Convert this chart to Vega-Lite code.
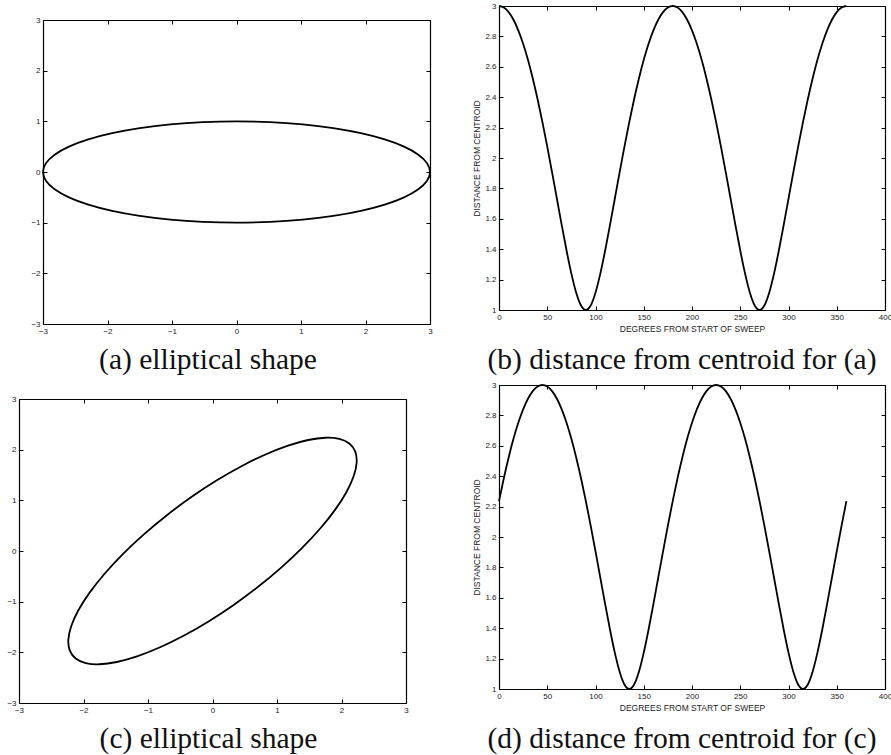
{
  "$schema": "https://vega.github.io/schema/vega-lite/v6.json",
  "padding": 0,
  "background": "white",
  "config": {
    "view": {"stroke": null},
    "axis": {"grid": false, "domainColor": "#000", "domainWidth": 1.2, "tickColor": "#000", "tickWidth": 1, "tickSize": -4, "labelPadding": 7, "labelFont": "Liberation Sans", "labelFontSize": 8, "labelColor": "#222", "titleFont": "Liberation Sans", "titleFontSize": 8.5, "titleFontWeight": "normal", "titleColor": "#222", "titlePadding": 3, "labelFlush": false, "labelOverlap": false, "labelBound": false},
    "title": {"font": "Liberation Serif", "fontSize": 29.5, "fontWeight": "normal", "color": "#111", "orient": "bottom", "frame": "group", "anchor": "middle"},
    "line": {"color": "black", "strokeWidth": 1.8}
  },
  "datasets": {
    "ea": [
      {"i":0,"x":3,"y":0},{"i":1,"x":2.9544,"y":0.1736},{"i":2,"x":2.8191,"y":0.342},{"i":3,"x":2.5981,"y":0.5},{"i":4,"x":2.2981,"y":0.6428},{"i":5,"x":1.9284,"y":0.766},{"i":6,"x":1.5,"y":0.866},{"i":7,"x":1.0261,"y":0.9397},{"i":8,"x":0.5209,"y":0.9848},{"i":9,"x":0,"y":1},{"i":10,"x":-0.5209,"y":0.9848},{"i":11,"x":-1.0261,"y":0.9397},{"i":12,"x":-1.5,"y":0.866},{"i":13,"x":-1.9284,"y":0.766},{"i":14,"x":-2.2981,"y":0.6428},{"i":15,"x":-2.5981,"y":0.5},{"i":16,"x":-2.8191,"y":0.342},{"i":17,"x":-2.9544,"y":0.1736},{"i":18,"x":-3,"y":0},{"i":19,"x":-2.9544,"y":-0.1736},{"i":20,"x":-2.8191,"y":-0.342},{"i":21,"x":-2.5981,"y":-0.5},{"i":22,"x":-2.2981,"y":-0.6428},{"i":23,"x":-1.9284,"y":-0.766},{"i":24,"x":-1.5,"y":-0.866},{"i":25,"x":-1.0261,"y":-0.9397},{"i":26,"x":-0.5209,"y":-0.9848},{"i":27,"x":0,"y":-1},{"i":28,"x":0.5209,"y":-0.9848},{"i":29,"x":1.0261,"y":-0.9397},{"i":30,"x":1.5,"y":-0.866},{"i":31,"x":1.9284,"y":-0.766},{"i":32,"x":2.2981,"y":-0.6428},{"i":33,"x":2.5981,"y":-0.5},{"i":34,"x":2.8191,"y":-0.342},{"i":35,"x":2.9544,"y":-0.1736}
    ],
    "ec": [
      {"i":0,"x":2.1213,"y":2.1213},{"i":1,"x":1.9663,"y":2.2119},{"i":2,"x":1.7516,"y":2.2352},{"i":3,"x":1.4836,"y":2.1907},{"i":4,"x":1.1705,"y":2.0796},{"i":5,"x":0.8219,"y":1.9052},{"i":6,"x":0.4483,"y":1.673},{"i":7,"x":0.0611,"y":1.39},{"i":8,"x":-0.328,"y":1.0647},{"i":9,"x":-0.7071,"y":0.7071},{"i":10,"x":-1.0647,"y":0.328},{"i":11,"x":-1.39,"y":-0.0611},{"i":12,"x":-1.673,"y":-0.4483},{"i":13,"x":-1.9052,"y":-0.8219},{"i":14,"x":-2.0796,"y":-1.1705},{"i":15,"x":-2.1907,"y":-1.4836},{"i":16,"x":-2.2352,"y":-1.7516},{"i":17,"x":-2.2119,"y":-1.9663},{"i":18,"x":-2.1213,"y":-2.1213},{"i":19,"x":-1.9663,"y":-2.2119},{"i":20,"x":-1.7516,"y":-2.2352},{"i":21,"x":-1.4836,"y":-2.1907},{"i":22,"x":-1.1705,"y":-2.0796},{"i":23,"x":-0.8219,"y":-1.9052},{"i":24,"x":-0.4483,"y":-1.673},{"i":25,"x":-0.0611,"y":-1.39},{"i":26,"x":0.328,"y":-1.0647},{"i":27,"x":0.7071,"y":-0.7071},{"i":28,"x":1.0647,"y":-0.328},{"i":29,"x":1.39,"y":0.0611},{"i":30,"x":1.673,"y":0.4483},{"i":31,"x":1.9052,"y":0.8219},{"i":32,"x":2.0796,"y":1.1705},{"i":33,"x":2.1907,"y":1.4836},{"i":34,"x":2.2352,"y":1.7516},{"i":35,"x":2.2119,"y":1.9663}
    ],
    "da": [
      {"deg":0,"r":3},{"deg":5,"r":2.9898},{"deg":10,"r":2.9595},{"deg":15,"r":2.9093},{"deg":20,"r":2.8398},{"deg":25,"r":2.7516},{"deg":30,"r":2.6458},{"deg":35,"r":2.5235},{"deg":40,"r":2.3864},{"deg":45,"r":2.2361},{"deg":50,"r":2.075},{"deg":55,"r":1.9058},{"deg":60,"r":1.7321},{"deg":65,"r":1.5585},{"deg":70,"r":1.3913},{"deg":75,"r":1.2393},{"deg":80,"r":1.1141},{"deg":85,"r":1.03},{"deg":90,"r":1},
      {"deg":95,"r":1.03},{"deg":100,"r":1.1141},{"deg":105,"r":1.2393},{"deg":110,"r":1.3913},{"deg":115,"r":1.5585},{"deg":120,"r":1.7321},{"deg":125,"r":1.9058},{"deg":130,"r":2.075},{"deg":135,"r":2.2361},{"deg":140,"r":2.3864},{"deg":145,"r":2.5235},{"deg":150,"r":2.6458},{"deg":155,"r":2.7516},{"deg":160,"r":2.8398},{"deg":165,"r":2.9093},{"deg":170,"r":2.9595},{"deg":175,"r":2.9898},{"deg":180,"r":3},
      {"deg":185,"r":2.9898},{"deg":190,"r":2.9595},{"deg":195,"r":2.9093},{"deg":200,"r":2.8398},{"deg":205,"r":2.7516},{"deg":210,"r":2.6458},{"deg":215,"r":2.5235},{"deg":220,"r":2.3864},{"deg":225,"r":2.2361},{"deg":230,"r":2.075},{"deg":235,"r":1.9058},{"deg":240,"r":1.7321},{"deg":245,"r":1.5585},{"deg":250,"r":1.3913},{"deg":255,"r":1.2393},{"deg":260,"r":1.1141},{"deg":265,"r":1.03},{"deg":270,"r":1},
      {"deg":275,"r":1.03},{"deg":280,"r":1.1141},{"deg":285,"r":1.2393},{"deg":290,"r":1.3913},{"deg":295,"r":1.5585},{"deg":300,"r":1.7321},{"deg":305,"r":1.9058},{"deg":310,"r":2.075},{"deg":315,"r":2.2361},{"deg":320,"r":2.3864},{"deg":325,"r":2.5235},{"deg":330,"r":2.6458},{"deg":335,"r":2.7516},{"deg":340,"r":2.8398},{"deg":345,"r":2.9093},{"deg":350,"r":2.9595},{"deg":355,"r":2.9898},{"deg":360,"r":3}
    ],
    "dc": [
      {"deg":0,"r":2.2361},{"deg":5,"r":2.3864},{"deg":10,"r":2.5235},{"deg":15,"r":2.6458},{"deg":20,"r":2.7516},{"deg":25,"r":2.8398},{"deg":30,"r":2.9093},{"deg":35,"r":2.9595},{"deg":40,"r":2.9898},{"deg":45,"r":3},
      {"deg":50,"r":2.9898},{"deg":55,"r":2.9595},{"deg":60,"r":2.9093},{"deg":65,"r":2.8398},{"deg":70,"r":2.7516},{"deg":75,"r":2.6458},{"deg":80,"r":2.5235},{"deg":85,"r":2.3864},{"deg":90,"r":2.2361},{"deg":95,"r":2.075},{"deg":100,"r":1.9058},{"deg":105,"r":1.7321},{"deg":110,"r":1.5585},{"deg":115,"r":1.3913},{"deg":120,"r":1.2393},{"deg":125,"r":1.1141},{"deg":130,"r":1.03},{"deg":135,"r":1},
      {"deg":140,"r":1.03},{"deg":145,"r":1.1141},{"deg":150,"r":1.2393},{"deg":155,"r":1.3913},{"deg":160,"r":1.5585},{"deg":165,"r":1.7321},{"deg":170,"r":1.9058},{"deg":175,"r":2.075},{"deg":180,"r":2.2361},{"deg":185,"r":2.3864},{"deg":190,"r":2.5235},{"deg":195,"r":2.6458},{"deg":200,"r":2.7516},{"deg":205,"r":2.8398},{"deg":210,"r":2.9093},{"deg":215,"r":2.9595},{"deg":220,"r":2.9898},{"deg":225,"r":3},
      {"deg":230,"r":2.9898},{"deg":235,"r":2.9595},{"deg":240,"r":2.9093},{"deg":245,"r":2.8398},{"deg":250,"r":2.7516},{"deg":255,"r":2.6458},{"deg":260,"r":2.5235},{"deg":265,"r":2.3864},{"deg":270,"r":2.2361},{"deg":275,"r":2.075},{"deg":280,"r":1.9058},{"deg":285,"r":1.7321},{"deg":290,"r":1.5585},{"deg":295,"r":1.3913},{"deg":300,"r":1.2393},{"deg":305,"r":1.1141},{"deg":310,"r":1.03},{"deg":315,"r":1},
      {"deg":320,"r":1.03},{"deg":325,"r":1.1141},{"deg":330,"r":1.2393},{"deg":335,"r":1.3913},{"deg":340,"r":1.5585},{"deg":345,"r":1.7321},{"deg":350,"r":1.9058},{"deg":355,"r":2.075},{"deg":360,"r":2.2361}
    ]
  },
  "spacing": 38,
  "hconcat": [
    {
      "spacing": 0,
      "vconcat": [
        {
          "width": 411, "height": 318,
          "title": {"text": "(a) elliptical shape", "dx": -16.5, "offset": 11},
          "layer": [
            {"data": {"name": "ea"}, "mark": {"type": "line", "interpolate": "cardinal-closed"},
             "encoding": {
               "x": {"field": "x", "type": "quantitative", "scale": {"domain": [-3, 3], "range": [24, 411], "nice": false, "zero": false}, "axis": {"title": null, "values": [-3,-2,-1,0,1,2,3]}},
               "y": {"field": "y", "type": "quantitative", "scale": {"domain": [-3, 3], "range": [318, 14], "nice": false, "zero": false}, "axis": {"title": null, "values": [-3,-2,-1,0,1,2,3], "offset": -24, "minExtent": 0}},
               "order": {"field": "i"}}},
            {"data": {"name": "ea"}, "mark": {"type": "line", "opacity": 0},
             "encoding": {
               "x": {"field": "x", "type": "quantitative", "axis": {"orient": "top", "title": null, "labels": false, "values": [-3,-2,-1,0,1,2,3], "offset": -14, "minExtent": 0}},
               "y": {"field": "y", "type": "quantitative", "axis": {"orient": "right", "title": null, "labels": false, "values": [-3,-2,-1,0,1,2,3], "minExtent": 0}},
               "order": {"field": "i"}}}
          ],
          "resolve": {"axis": {"x": "independent", "y": "independent"}}
        },
        {
          "width": 387, "height": 304,
          "title": {"text": "(c) elliptical shape", "dx": -4, "offset": 11},
          "layer": [
            {"data": {"name": "ec"}, "mark": {"type": "line", "interpolate": "cardinal-closed"},
             "encoding": {
               "x": {"field": "x", "type": "quantitative", "scale": {"domain": [-3, 3], "nice": false, "zero": false}, "axis": {"title": null, "values": [-3,-2,-1,0,1,2,3]}},
               "y": {"field": "y", "type": "quantitative", "scale": {"domain": [-3, 3], "nice": false, "zero": false}, "axis": {"title": null, "values": [-3,-2,-1,0,1,2,3], "minExtent": 19}},
               "order": {"field": "i"}}},
            {"data": {"name": "ec"}, "mark": {"type": "line", "opacity": 0},
             "encoding": {
               "x": {"field": "x", "type": "quantitative", "axis": {"orient": "top", "title": null, "labels": false, "values": [-3,-2,-1,0,1,2,3], "minExtent": 23.5}},
               "y": {"field": "y", "type": "quantitative", "axis": {"orient": "right", "title": null, "labels": false, "values": [-3,-2,-1,0,1,2,3], "minExtent": 0}},
               "order": {"field": "i"}}}
          ],
          "resolve": {"axis": {"x": "independent", "y": "independent"}}
        }
      ]
    },
    {
      "spacing": 0,
      "vconcat": [
        {
          "width": 386, "height": 304,
          "title": {"text": "(b) distance from centroid for (a)", "dx": -10, "offset": 13},
          "layer": [
            {"data": {"name": "da"}, "mark": {"type": "line", "interpolate": "monotone"},
             "encoding": {
               "x": {"field": "deg", "type": "quantitative", "scale": {"domain": [0, 400], "nice": false}, "axis": {"title": "DEGREES FROM START OF SWEEP", "values": [0,50,100,150,200,250,300,350,400]}},
               "y": {"field": "r", "type": "quantitative", "scale": {"domain": [1, 3], "nice": false, "zero": false}, "axis": {"title": "DISTANCE FROM CENTROID", "format": "~g", "values": [1,1.2,1.4,1.6,1.8,2,2.2,2.4,2.6,2.8,3], "minExtent": 15}}}},
            {"data": {"name": "da"}, "mark": {"type": "line", "opacity": 0},
             "encoding": {
               "x": {"field": "deg", "type": "quantitative", "axis": {"orient": "top", "title": null, "labels": false, "values": [0,50,100,150,200,250,300,350,400], "minExtent": 6}},
               "y": {"field": "r", "type": "quantitative", "axis": {"orient": "right", "title": null, "labels": false, "values": [1,1.2,1.4,1.6,1.8,2,2.2,2.4,2.6,2.8,3], "minExtent": 0}}}}
          ],
          "resolve": {"axis": {"x": "independent", "y": "independent"}}
        },
        {
          "width": 386, "height": 304,
          "title": {"text": "(d) distance from centroid for (c)", "dx": -10, "offset": 13},
          "layer": [
            {"data": {"name": "dc"}, "mark": {"type": "line", "interpolate": "monotone"},
             "encoding": {
               "x": {"field": "deg", "type": "quantitative", "scale": {"domain": [0, 400], "nice": false}, "axis": {"title": "DEGREES FROM START OF SWEEP", "values": [0,50,100,150,200,250,300,350,400]}},
               "y": {"field": "r", "type": "quantitative", "scale": {"domain": [1, 3], "nice": false, "zero": false}, "axis": {"title": "DISTANCE FROM CENTROID", "format": "~g", "values": [1,1.2,1.4,1.6,1.8,2,2.2,2.4,2.6,2.8,3], "minExtent": 15}}}},
            {"data": {"name": "dc"}, "mark": {"type": "line", "opacity": 0},
             "encoding": {
               "x": {"field": "deg", "type": "quantitative", "axis": {"orient": "top", "title": null, "labels": false, "values": [0,50,100,150,200,250,300,350,400], "minExtent": 11}},
               "y": {"field": "r", "type": "quantitative", "axis": {"orient": "right", "title": null, "labels": false, "values": [1,1.2,1.4,1.6,1.8,2,2.2,2.4,2.6,2.8,3], "minExtent": 0}}}}
          ],
          "resolve": {"axis": {"x": "independent", "y": "independent"}}
        }
      ]
    }
  ]
}
